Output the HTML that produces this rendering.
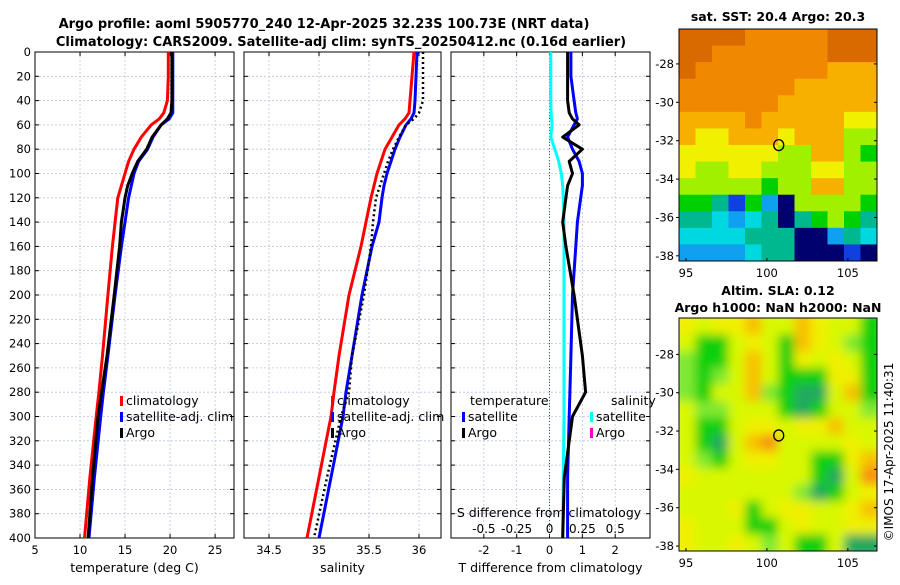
<!DOCTYPE html>
<html><head><meta charset="utf-8"><style>
body{margin:0;background:#fff;width:900px;height:580px;overflow:hidden;font-family:"Liberation Sans",sans-serif}
svg text{font-family:"DejaVu Sans","Liberation Sans",sans-serif}
</style></head><body>
<svg id="fig" width="900" height="580" xmlns="http://www.w3.org/2000/svg">
<text x="324" y="28" font-size="13" font-weight="bold" text-anchor="middle">Argo profile: aoml 5905770_240 12-Apr-2025 32.23S 100.73E (NRT data)</text>
<text x="341" y="46" font-size="13" font-weight="bold" text-anchor="middle">Climatology: CARS2009. Satellite-adj clim: synTS_20250412.nc (0.16d earlier)</text>
<text x="778" y="21" font-size="12.5" font-weight="bold" text-anchor="middle">sat. SST: 20.4 Argo: 20.3</text>
<text x="778" y="295" font-size="12.5" font-weight="bold" text-anchor="middle">Altim. SLA: 0.12</text>
<text x="778" y="312" font-size="12.5" font-weight="bold" text-anchor="middle">Argo h1000: NaN h2000: NaN</text>
<text transform="translate(893,452) rotate(-90)" font-size="12" text-anchor="middle">©IMOS 17-Apr-2025 11:40:31</text>
</svg>
<script>
// depth levels (dbar)
const depths=[0,20,40,50,55,60,70,80,90,100,110,120,140,160,200,250,280,300,350,400];
const tempClim=[19.8,19.8,19.7,19.3,18.8,17.9,16.8,16.0,15.4,15.0,14.6,14.2,13.9,13.6,13.1,12.5,12.1,11.8,11.1,10.5];
const tempSat=[20.3,20.3,20.3,20.3,19.9,19.0,18.1,17.5,16.5,16.0,15.7,15.4,15.0,14.6,13.9,13.1,12.6,12.3,11.6,11.0];
const tempArgo=[20.2,20.2,20.2,20.1,19.7,19.0,18.0,17.4,16.4,15.8,15.3,15.0,14.6,14.4,13.8,13.0,12.4,12.0,11.4,10.9];
const salClim=[35.95,35.93,35.91,35.9,35.86,35.8,35.73,35.66,35.62,35.58,35.55,35.52,35.47,35.42,35.30,35.2,35.15,35.12,35.0,34.88];
const salSat=[35.98,35.97,35.96,35.95,35.92,35.87,35.81,35.76,35.72,35.68,35.65,35.63,35.6,35.53,35.43,35.33,35.27,35.24,35.12,35.0];
const salArgo=[36.04,36.04,36.04,36.0,35.95,35.87,35.8,35.74,35.69,35.65,35.61,35.57,35.54,35.52,35.45,35.33,35.3,35.22,35.08,34.95];
const dT_sat=[0.65,0.65,0.75,0.8,0.85,0.75,0.55,0.7,0.9,1.0,1.0,0.95,0.85,0.8,0.7,0.65,0.62,0.6,0.55,0.55];
const dT_argo=[0.55,0.55,0.55,0.6,0.7,0.9,0.4,1.0,0.6,0.7,0.55,0.5,0.4,0.5,0.75,1.0,1.1,0.7,0.45,0.4];
const dS_sat=[0.01,0.01,0.01,0.012,0.015,0.02,0.01,0.04,0.07,0.09,0.1,0.105,0.11,0.11,0.11,0.11,0.11,0.11,0.105,0.1];
const depthTicks=[0,20,40,60,80,100,120,140,160,180,200,220,240,260,280,300,320,340,360,380,400];
const tTicks=[5,10,15,20,25];
const sTicks=[34.5,35,35.5,36];
const dTTicks=[-2,-1,0,1,2];
const dSTicks=[-0.5,-0.25,0,0.25,0.5];
const sstGrid=["AAAA99999AAA","AA9999999AAA","A99999999888","999999988888","999999888888","888898888877","877888788866","777777668865","766776667766","666665668866","554152066665","443234045654","333344400243","222234400010"];
const slaGrid=["434453354331","311343154321","211353143431","212353111441","213352100351","322333101332","311344344533","310356333343","321344331145","433333331036","333333320134","333413443345","433311343344","433432311300"];
const sstLonLim=[94.57,106.8], sstLatLim=[-26.18,-38.27];
const slaLatLim=[-26.1,-38.26];
const argoLon=100.73, argoLat=-32.23;
const lonTicks=[95,100,105];
const latTicks=[-28,-30,-32,-34,-36,-38];

const NS="http://www.w3.org/2000/svg";
const svg=document.getElementById('fig');
function el(t,a,p){const e=document.createElementNS(NS,t);for(const k in a)e.setAttribute(k,a[k]);(p||svg).appendChild(e);return e;}
const Y0=52,Y1=538;
const yD=d=>Y0+(d/400)*(Y1-Y0);
function panel(name,x0,x1,xmin,xmax,ticks,lab,xlabel,showY){
  const xs=v=>x0+(v-xmin)/(xmax-xmin)*(x1-x0);
  const g=el('g',{});
  
  
  depthTicks.forEach(d=>{if(d>0&&d<400){const l=el('line',{x1:x0,x2:x1,y1:yD(d),y2:yD(d),stroke:'#b8c4e0','stroke-width':0.8,'stroke-dasharray':'2,2'},g);}
    el('line',{x1:x0,x2:x0+4,y1:yD(d),y2:yD(d),stroke:'#000'},g);el('line',{x1:x1-4,x2:x1,y1:yD(d),y2:yD(d),stroke:'#000'},g);
    if(showY){const t=el('text',{x:x0-4,y:yD(d)+4,'font-size':11.5,'text-anchor':'end'},g);t.textContent=d;}
  });
  ticks.forEach((v,i)=>{const x=xs(v);el('line',{x1:x,x2:x,y1:Y0,y2:Y1,stroke:'#b8c4e0','stroke-width':0.8,'stroke-dasharray':'2,2'},g);
    el('line',{x1:x,x2:x,y1:Y1,y2:Y1-4,stroke:'#000'},g);el('line',{x1:x,x2:x,y1:Y0,y2:Y0+4,stroke:'#000'},g);
    const t=el('text',{x:x,y:Y1+16,'font-size':11.5,'text-anchor':'middle'},g);t.textContent=lab?lab[i]:v;});
  el('rect',{x:x0,y:Y0,width:x1-x0,height:Y1-Y0,fill:'none',stroke:'#000','stroke-width':1},g);
  const xl=el('text',{x:(x0+x1)/2,y:572,'font-size':12.5,'text-anchor':'middle'},g);xl.textContent=xlabel;
  return {g,xs};
}
function line(p,vals,color,name,dash,w){
  const pts=vals.map((v,i)=>p.xs(v).toFixed(1)+','+yD(depths[i]).toFixed(1)).join(' ');
  const l=el('polyline',{points:pts,fill:'none',stroke:color,'stroke-width':w||3,'stroke-linejoin':'round'},p.g);
  if(dash)l.setAttribute('stroke-dasharray',dash);
  
  
}
function legend(g,x,y,color,label,name){
  el('rect',{x:x,y:y-9,width:3,height:10,fill:color},g);
  const t=el('text',{x:x+6,y:y,'font-size':12.5},g);t.textContent=label;
  
  
}
const p1=panel('temperature-panel',35,234,5,27.1,tTicks,null,'temperature (deg C)',true);
line(p1,tempClim,'#f00','temp-climatology-line');
line(p1,tempSat,'#00f','temp-satellite-line');
line(p1,tempArgo,'#000','temp-argo-line');
legend(p1.g,120,405,'#f00','climatology','legend-climatology');
legend(p1.g,120,421,'#00f','satellite-adj. clim','legend-satellite');
legend(p1.g,120,437,'#000','Argo','legend-argo');
const p2=panel('salinity-panel',244,441,34.25,36.22,sTicks,null,'salinity',false);
line(p2,salClim,'#f00','sal-climatology-line');
line(p2,salSat,'#00f','sal-satellite-line');
line(p2,salArgo,'#000','sal-argo-line','2,3',2.5);
legend(p2.g,331,405,'#f00','climatology','legend-climatology-2');
legend(p2.g,331,421,'#00f','satellite-adj. clim','legend-satellite-2');
legend(p2.g,331,437,'#000','Argo','legend-argo-2');
const p3=panel('difference-panel',451,650,-3,3.06,dTTicks,null,'T difference from climatology',false);
el('line',{x1:p3.xs(0),x2:p3.xs(0),y1:Y0,y2:Y1,stroke:'#363',"stroke-width":1,'stroke-dasharray':'1,2'},p3.g);
const sToT=v=>v*4;
line(p3,dS_sat.map(sToT),'#0ff','sal-diff-satellite-line');
line(p3,dT_sat,'#00f','temp-diff-satellite-line');
line(p3,dT_argo,'#000','temp-diff-argo-line');
let t=el('text',{x:470,y:405,'font-size':12.5},p3.g);t.textContent='temperature';
t=el('text',{x:611,y:405,'font-size':12.5},p3.g);t.textContent='salinity';
legend(p3.g,462,421,'#00f','satellite','legend-t-satellite');
legend(p3.g,462,437,'#000','Argo','legend-t-argo');
legend(p3.g,590,421,'#0ff','satellite','legend-s-satellite');
legend(p3.g,590,437,'#f0c','Argo','legend-s-argo');
t=el('text',{x:549,y:517,'font-size':12.5,'text-anchor':'middle'},p3.g);t.textContent='S difference from climatology';
dSTicks.forEach(v=>{const tt=el('text',{x:p3.xs(sToT(v)),y:533,'font-size':12,'text-anchor':'middle'},p3.g);tt.textContent=v;});

const sstCols=['#00006e','#1040e0','#10a0f0','#00d8e0','#00b890','#00d000','#a0f000','#f0f000','#f8b000','#f08800','#d86a00'];
const slaCols=['#20a860','#10d010','#80e830','#d8f800','#f0f000','#f8c000','#f89010'];
function map(name,y0,y1,grid,cols,latLim,blur){
  const x0=679,x1=877;
  const lx=v=>x0+(v-sstLonLim[0])/(sstLonLim[1]-sstLonLim[0])*(x1-x0);
  const ly=v=>y0+(v-latLim[0])/(latLim[1]-latLim[0])*(y1-y0);
  const g=el('g',{});
  
  
  const cp=el('clipPath',{id:name+'-clip'},g);el('rect',{x:x0,y:y0,width:x1-x0,height:y1-y0},cp);
  const cells=el('g',{'clip-path':'url(#'+name+'-clip)'},g);
  const inner=el('g',blur?{filter:'url(#bl)'}:{},cells);
  const nr=grid.length,nc=grid[0].length,cw=(x1-x0)/nc,ch=(y1-y0)/nr;
  grid.forEach((row,r)=>{for(let c=0;c<nc;c++){
    const ex=blur?6:0;
    const cell=el('rect',{x:x0+c*cw-(c===0?ex:0),y:y0+r*ch-(r===0?ex:0),width:cw+0.6+((c===0||c===nc-1)?ex:0),height:ch+0.6+((r===0||r===nr-1)?ex:0),fill:cols[parseInt(row[c],16)]},inner);
    
    }});
  el('rect',{x:x0,y:y0,width:x1-x0,height:y1-y0,fill:'none',stroke:'#000'},g);
  lonTicks.forEach(v=>{const x=lx(v);el('line',{x1:x,x2:x,y1:y1,y2:y1-3,stroke:'#000'},g);const tt=el('text',{x:x,y:y1+16,'font-size':11.5,'text-anchor':'middle'},g);tt.textContent=v;});
  latTicks.forEach(v=>{const y=ly(v);el('line',{x1:x1,x2:x1-3,y1:y,y2:y,stroke:'#000'},g);el('line',{x1:x0,x2:x0-3,y1:y,y2:y,stroke:'#000'},g);const tt=el('text',{x:x0-5,y:y+4,'font-size':11.5,'text-anchor':'end'},g);tt.textContent=v;});
  const m=el('ellipse',{cx:lx(argoLon),cy:ly(argoLat),rx:5,ry:5.5,fill:'none',stroke:'#000','stroke-width':1.3},g);
  
  
}
const defs=el('defs',{});const f=el('filter',{id:'bl',x:'-10%',y:'-10%',width:'120%',height:'120%'},defs);el('feGaussianBlur',{stdDeviation:5},f);
map('sst-map',29,261,sstGrid,sstCols,sstLatLim,false);
map('sla-map',318,551,slaGrid,slaCols,slaLatLim,true);
</script>
</body></html>
